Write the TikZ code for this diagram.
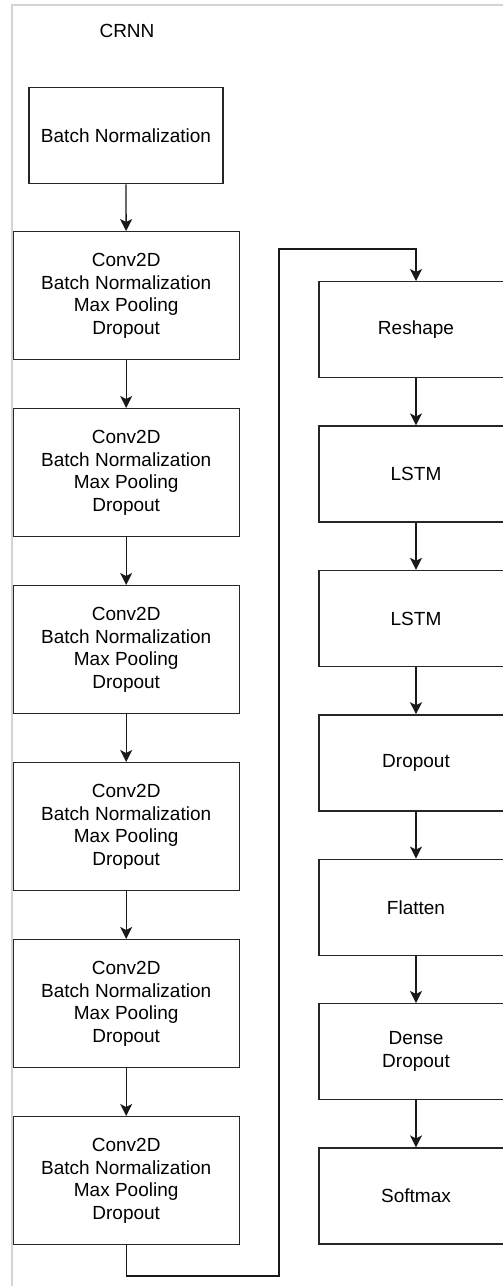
\documentclass[tikz,border=0pt]{standalone}
\usepackage{fontspec}
\setmainfont{Liberation Sans}
\usetikzlibrary{arrows.meta}
\begin{document}
\begin{tikzpicture}[x=1pt,y=-1pt,
  layer/.style={draw=black!85, line width=1.3pt, fill=white, inner sep=0pt,
    align=center, font=\fontsize{19}{22.5}\selectfont, anchor=north},
  convbox/.style={layer, minimum width=226pt, minimum height=128pt},
  headbox/.style={layer, minimum width=194pt, minimum height=96pt},
  flow/.style={draw=black!90, line width=1.3pt,
    -{Stealth[length=12pt,width=12pt,inset=3pt]}},
  frame/.style={draw=black!17, line width=2pt}]
  \useasboundingbox (0,0) rectangle (503,1286);
  \clip (0,0) rectangle (503,1286);
  % container frame
  \draw[frame] (12,5) rectangle (600,1400);
  % title
  \node[font=\fontsize{19}{22.5}\selectfont] (crnn) at (127,31) {CRNN};
  % convolutional column
  \node[headbox] (bn) at (126,87) {Batch Normalization};
  \foreach \i/\y in {1/231,2/408,3/585,4/762,5/939,6/1116}
    \node[convbox] (c\i) at (126.2,\y) {Conv2D\\Batch Normalization\\Max Pooling\\Dropout};
  % recurrent / dense column
  \node[headbox] (reshape) at (416,281) {Reshape};
  \node[headbox] (lstm1)   at (416,425.4) {LSTM};
  \node[headbox] (lstm2)   at (416,569.8) {LSTM};
  \node[headbox] (drop)    at (416,714.2) {Dropout};
  \node[headbox] (flat)    at (416,858.6) {Flatten};
  \node[headbox] (dense)   at (416,1003) {Dense\\Dropout};
  \node[headbox] (soft)    at (416,1147.4) {Softmax};
  % connectors
  \draw[flow] (bn) -- (c1);
  \foreach \a/\b in {1/2,2/3,3/4,4/5,5/6}
    \draw[flow] (c\a) -- (c\b);
  \coordinate (turnA) at (126.2,1276);
  \coordinate (turnB) at (279,1276);
  \coordinate (turnC) at (279,249);
  \coordinate (turnD) at (416,249);
  \draw[flow] (c6.south) -- (turnA) -- (turnB) -- (turnC) -- (turnD) -- (reshape.north);
  \draw[flow] (reshape) -- (lstm1);
  \draw[flow] (lstm1) -- (lstm2);
  \draw[flow] (lstm2) -- (drop);
  \draw[flow] (drop) -- (flat);
  \draw[flow] (flat) -- (dense);
  \draw[flow] (dense) -- (soft);
\end{tikzpicture}
\end{document}
